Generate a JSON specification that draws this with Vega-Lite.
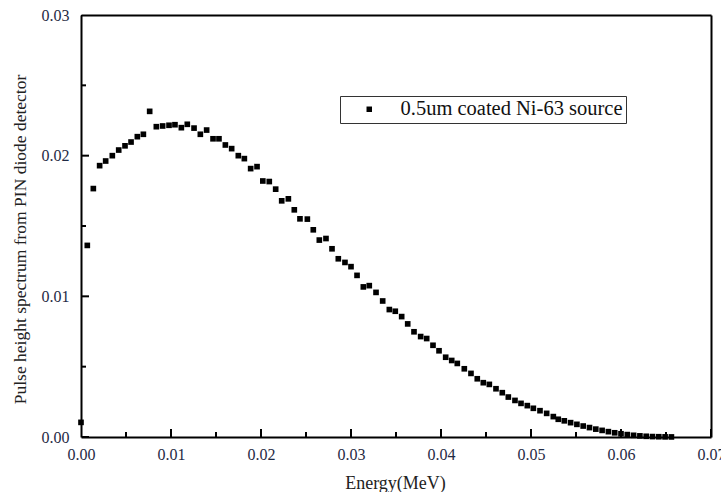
{
  "$schema": "https://vega.github.io/schema/vega-lite/v6.json",
  "width": 630,
  "height": 422,
  "autosize": {"type": "none"},
  "padding": {"left": 81, "top": 15, "right": 10, "bottom": 55},
  "config": {
    "view": {"stroke": null},
    "font": "Liberation Serif",
    "axis": {
      "domainColor": "black",
      "domainWidth": 2,
      "gridOpacity": 0,
      "labelFont": "Liberation Serif",
      "labelFontSize": 16,
      "labelColor": "#1f2a44",
      "titleFont": "Liberation Serif",
      "titleFontSize": 18,
      "titleFontWeight": "normal",
      "titleColor": "#222"
    },
    "legend": {
      "orient": "none",
      "legendX": 259,
      "legendY": 81,
      "strokeColor": "#333",
      "strokeWidth": 1,
      "padding": 3,
      "symbolOffset": 16,
      "labelOffset": 21,
      "labelLimit": 0,
      "labelFont": "Liberation Serif",
      "labelFontSize": 20.5,
      "labelColor": "#111",
      "symbolType": "square",
      "symbolSize": 30,
      "symbolStrokeWidth": 0,
      "title": null
    }
  },
  "datasets": {
    "xmajor": [{"t": 0}, {"t": 0.01}, {"t": 0.02}, {"t": 0.03}, {"t": 0.04}, {"t": 0.05}, {"t": 0.06}, {"t": 0.07}],
    "xminor": [{"t": 0.005}, {"t": 0.015}, {"t": 0.025}, {"t": 0.035}, {"t": 0.045}, {"t": 0.055}, {"t": 0.065}],
    "ymajor": [{"t": 0}, {"t": 0.01}, {"t": 0.02}, {"t": 0.03}],
    "yminor": [{"t": 0.005}, {"t": 0.015}, {"t": 0.025}]
  },
  "data": {
    "values": [
      {"E": 0.0000, "v": 0.00104}, {"E": 0.0007, "v": 0.01362}, {"E": 0.00137, "v": 0.01766},
      {"E": 0.00207, "v": 0.01929}, {"E": 0.00274, "v": 0.01962}, {"E": 0.00348, "v": 0.0200},
      {"E": 0.00419, "v": 0.0204}, {"E": 0.00489, "v": 0.0207}, {"E": 0.00556, "v": 0.02097},
      {"E": 0.00626, "v": 0.02135}, {"E": 0.00693, "v": 0.02152}, {"E": 0.00763, "v": 0.02315},
      {"E": 0.00837, "v": 0.02206}, {"E": 0.00907, "v": 0.02211}, {"E": 0.00978, "v": 0.02216},
      {"E": 0.01044, "v": 0.0222}, {"E": 0.01115, "v": 0.02199}, {"E": 0.01181, "v": 0.02223},
      {"E": 0.01256, "v": 0.02196}, {"E": 0.01326, "v": 0.02152}, {"E": 0.01396, "v": 0.02182},
      {"E": 0.01467, "v": 0.0212}, {"E": 0.01533, "v": 0.0212}, {"E": 0.01604, "v": 0.02076},
      {"E": 0.01674, "v": 0.0205}, {"E": 0.01748, "v": 0.0200}, {"E": 0.01815, "v": 0.01979},
      {"E": 0.01885, "v": 0.01908}, {"E": 0.01956, "v": 0.01922}, {"E": 0.0202, "v": 0.0182},
      {"E": 0.02092, "v": 0.01816}, {"E": 0.02163, "v": 0.01762}, {"E": 0.0223, "v": 0.01679},
      {"E": 0.02304, "v": 0.01693}, {"E": 0.0237, "v": 0.01615}, {"E": 0.02433, "v": 0.01551},
      {"E": 0.02515, "v": 0.01549}, {"E": 0.02581, "v": 0.01473}, {"E": 0.02648, "v": 0.0140},
      {"E": 0.02722, "v": 0.01411}, {"E": 0.02789, "v": 0.01338}, {"E": 0.02859, "v": 0.01267},
      {"E": 0.02933, "v": 0.01241}, {"E": 0.0300, "v": 0.01211}, {"E": 0.03067, "v": 0.01149},
      {"E": 0.03137, "v": 0.01067}, {"E": 0.03203, "v": 0.01076}, {"E": 0.03278, "v": 0.01028},
      {"E": 0.03352, "v": 0.00967}, {"E": 0.03426, "v": 0.00906}, {"E": 0.03492, "v": 0.00894},
      {"E": 0.03563, "v": 0.00856}, {"E": 0.0363, "v": 0.00804}, {"E": 0.037, "v": 0.00748},
      {"E": 0.03774, "v": 0.00714}, {"E": 0.03841, "v": 0.0070}, {"E": 0.03911, "v": 0.00652},
      {"E": 0.03978, "v": 0.00613}, {"E": 0.04052, "v": 0.00567}, {"E": 0.04119, "v": 0.00544},
      {"E": 0.04181, "v": 0.00523}, {"E": 0.04259, "v": 0.00485}, {"E": 0.04333, "v": 0.00452},
      {"E": 0.04403, "v": 0.00414}, {"E": 0.0447, "v": 0.00386}, {"E": 0.04537, "v": 0.00374},
      {"E": 0.04611, "v": 0.00343}, {"E": 0.04681, "v": 0.00315}, {"E": 0.04748, "v": 0.00284},
      {"E": 0.04822, "v": 0.0026}, {"E": 0.04889, "v": 0.00239}, {"E": 0.04959, "v": 0.00223},
      {"E": 0.05026, "v": 0.00204}, {"E": 0.051, "v": 0.00187}, {"E": 0.05174, "v": 0.00168},
      {"E": 0.05248, "v": 0.00145}, {"E": 0.05303, "v": 0.00126}, {"E": 0.0537, "v": 0.00115},
      {"E": 0.0544, "v": 0.00102}, {"E": 0.0551, "v": 0.0009}, {"E": 0.0558, "v": 0.00078},
      {"E": 0.0565, "v": 0.00067}, {"E": 0.0572, "v": 0.00056}, {"E": 0.0579, "v": 0.00047},
      {"E": 0.0586, "v": 0.00038}, {"E": 0.0593, "v": 0.0003}, {"E": 0.0600, "v": 0.00023},
      {"E": 0.0607, "v": 0.00017}, {"E": 0.0614, "v": 0.00012}, {"E": 0.0621, "v": 0.00008},
      {"E": 0.0628, "v": 0.00005}, {"E": 0.0635, "v": 0.00003}, {"E": 0.0642, "v": 0.00002},
      {"E": 0.0649, "v": 0.00001}, {"E": 0.0656, "v": 0.000005}
    ]
  },
  "resolve": {"axis": {"x": "independent", "y": "independent"}},
  "layer": [
    {
      "data": {"name": "xmajor"},
      "mark": {"type": "tick", "orient": "vertical", "size": 16, "thickness": 2, "color": "black", "opacity": 1, "clip": true},
      "encoding": {
        "x": {"field": "t", "type": "quantitative", "scale": {"domain": [0, 0.07], "nice": false, "zero": false}, "axis": null},
        "y": {"datum": 0, "type": "quantitative", "scale": {"domain": [0, 0.03], "nice": false, "zero": false}, "axis": null}
      }
    },
    {
      "data": {"name": "xminor"},
      "mark": {"type": "tick", "orient": "vertical", "size": 10, "thickness": 2, "color": "black", "opacity": 1, "clip": true},
      "encoding": {
        "x": {"field": "t", "type": "quantitative", "scale": {"domain": [0, 0.07], "nice": false, "zero": false}, "axis": null},
        "y": {"datum": 0, "type": "quantitative", "scale": {"domain": [0, 0.03], "nice": false, "zero": false}, "axis": null}
      }
    },
    {
      "data": {"name": "ymajor"},
      "mark": {"type": "tick", "orient": "horizontal", "size": 16, "thickness": 2, "color": "black", "opacity": 1, "clip": true},
      "encoding": {
        "y": {"field": "t", "type": "quantitative", "scale": {"domain": [0, 0.03], "nice": false, "zero": false}, "axis": null},
        "x": {"datum": 0, "type": "quantitative", "scale": {"domain": [0, 0.07], "nice": false, "zero": false}, "axis": null}
      }
    },
    {
      "data": {"name": "yminor"},
      "mark": {"type": "tick", "orient": "horizontal", "size": 10, "thickness": 2, "color": "black", "opacity": 1, "clip": true},
      "encoding": {
        "y": {"field": "t", "type": "quantitative", "scale": {"domain": [0, 0.03], "nice": false, "zero": false}, "axis": null},
        "x": {"datum": 0, "type": "quantitative", "scale": {"domain": [0, 0.07], "nice": false, "zero": false}, "axis": null}
      }
    },
    {
      "mark": {"type": "point", "opacity": 0},
      "encoding": {
        "x": {
          "field": "E",
          "type": "quantitative",
          "scale": {"domain": [0, 0.07], "nice": false, "zero": false},
          "axis": {"orient": "top", "ticks": false, "labels": false, "domain": true, "title": null}
        },
        "y": {
          "field": "v",
          "type": "quantitative",
          "scale": {"domain": [0, 0.03], "nice": false, "zero": false},
          "axis": {"orient": "right", "ticks": false, "labels": false, "domain": true, "title": null}
        }
      }
    },
    {
      "mark": {"type": "point", "shape": "square", "filled": true, "size": 32, "opacity": 1},
      "encoding": {
        "x": {
          "field": "E",
          "type": "quantitative",
          "scale": {"domain": [0, 0.07], "nice": false, "zero": false},
          "axis": {
            "orient": "bottom",
            "title": "Energy(MeV)",
            "values": [0, 0.01, 0.02, 0.03, 0.04, 0.05, 0.06, 0.07],
            "format": ".2f",
            "ticks": false,
            "tickSize": 0,
            "labelPadding": 9,
            "labelFlush": false,
            "titleX": 314,
            "titleY": 51,
            "titleBaseline": "alphabetic"
          }
        },
        "y": {
          "field": "v",
          "type": "quantitative",
          "scale": {"domain": [0, 0.03], "nice": false, "zero": false},
          "axis": {
            "orient": "left",
            "title": "Pulse height spectrum from PIN diode detector",
            "titleFontSize": 17.5,
            "values": [0, 0.01, 0.02, 0.03],
            "format": ".2f",
            "ticks": false,
            "tickSize": 0,
            "labelPadding": 12,
            "labelFlush": false,
            "titleX": -56,
            "titleY": 224,
            "titleBaseline": "alphabetic"
          }
        },
        "color": {
          "datum": "0.5um coated Ni-63 source",
          "type": "nominal",
          "scale": {"range": ["black"]}
        }
      }
    }
  ]
}
